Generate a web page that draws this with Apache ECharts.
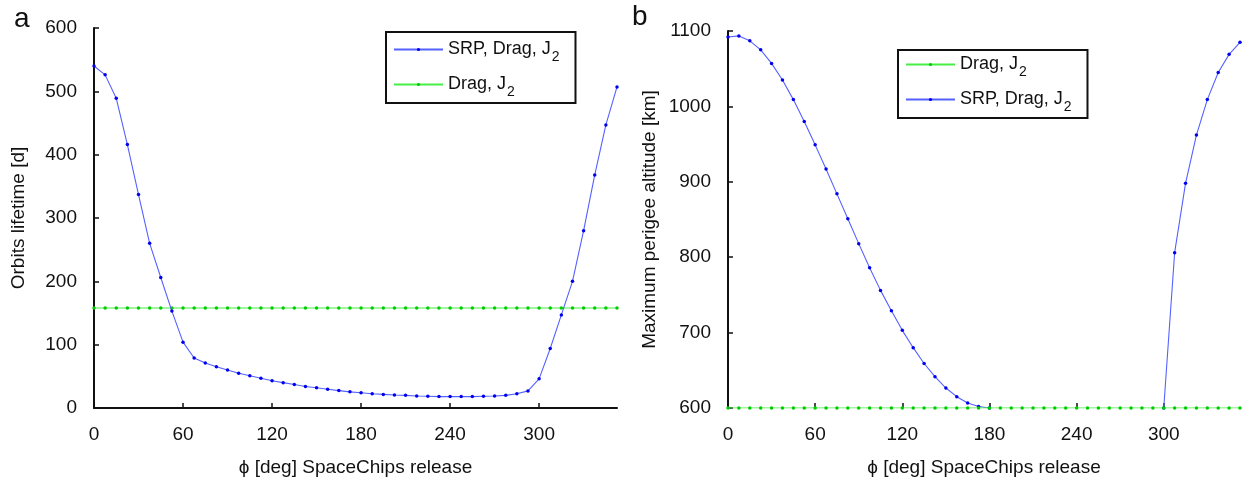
<!DOCTYPE html>
<html><head><meta charset="utf-8">
<script src="https://cdn.jsdelivr.net/npm/echarts@6/dist/echarts.min.js"></script>
<style>html,body{margin:0;padding:0;background:#fff}#c{width:1250px;height:482px}</style>
</head><body><div id="c"></div>
<script>
// Release angle phi [deg]
const phi = [0, 7.5, 15, 22.5, 30, 37.5, 45, 52.5, 60, 67.5, 75, 82.5, 90, 97.5, 105, 112.5,
  120, 127.5, 135, 142.5, 150, 157.5, 165, 172.5, 180, 187.5, 195, 202.5, 210, 217.5, 225, 232.5,
  240, 247.5, 255, 262.5, 270, 277.5, 285, 292.5, 300, 307.5, 315, 322.5, 330, 337.5, 345, 352.5];

// (a) Orbits lifetime [d]
const lifetimeSRP = [540, 526, 489, 416, 337, 260, 206, 153, 104, 79, 71, 65, 60, 55, 51, 47,
  43, 40, 37, 34, 32, 29.5, 27.5, 25.5, 24, 22.5, 21.5, 20.5, 20, 19, 18.5, 18,
  18, 18, 18, 18.5, 19, 20, 22.5, 27, 46, 94, 147, 200, 280, 368, 447, 507];
const lifetimeDrag = [158, 158, 158, 158, 158, 158, 158, 158, 158, 158, 158, 158, 158, 158, 158, 158,
  158, 158, 158, 158, 158, 158, 158, 158, 158, 158, 158, 158, 158, 158, 158, 158,
  158, 158, 158, 158, 158, 158, 158, 158, 158, 158, 158, 158, 158, 158, 158, 158];

// (b) Maximum perigee altitude [km]
const perigeeSRP = [1092, 1093.5, 1087, 1075, 1057, 1035, 1009, 980, 949, 917, 884, 851, 818, 786, 756, 729,
  703, 680, 659, 641.5, 626.5, 615, 606.5, 602, 600, null, null, null, null, null, null, null,
  null, null, null, null, null, null, null, null, 600, 806, 898, 962, 1009, 1045, 1069, 1085];
const perigeeDrag = [600, 600, 600, 600, 600, 600, 600, 600, 600, 600, 600, 600, 600, 600, 600, 600,
  600, 600, 600, 600, 600, 600, 600, 600, 600, 600, 600, 600, 600, 600, 600, 600,
  600, 600, 600, 600, 600, 600, 600, 600, 600, 600, 600, 600, 600, 600, 600, 600];

const xTickValues = [0, 60, 120, 180, 240, 300];
const NAME_SRP = 'SRP, Drag, J2';
const NAME_DRAG = 'Drag, J2';

const FONT = "'Liberation Sans', Arial, Helvetica, sans-serif";
const BLUE_LINE = '#5561ff', BLUE_DOT = '#0000ee';
const GREEN_LINE = '#46ee46', GREEN_DOT = '#00cc00';

function pairs(xs, ys) { return xs.map((x, i) => [x, ys[i]]); }

function xAxisCfg(gridIndex, showLine) {
  return {
    type: 'value', gridIndex, min: 0, max: 352.5,
    name: 'ϕ [deg] SpaceChips release', nameLocation: 'middle', nameGap: 50,
    nameTextStyle: { fontFamily: FONT, fontSize: 19, color: '#111' },
    axisLine: { show: showLine, lineStyle: { color: '#111', width: 2 } },
    axisTick: { show: true, inside: true, length: 5, customValues: xTickValues, lineStyle: { color: '#111', width: 1.5 } },
    axisLabel: { customValues: xTickValues, fontFamily: FONT, fontSize: 19, color: '#111', margin: 17 },
    splitLine: { show: false }
  };
}
function yAxisCfg(gridIndex, min, max, name, gap) {
  return {
    type: 'value', gridIndex, min, max, interval: 100,
    name, nameLocation: 'middle', nameGap: gap,
    nameTextStyle: { fontFamily: FONT, fontSize: 19, color: '#111' },
    axisLine: { show: true, lineStyle: { color: '#111', width: 2 } },
    axisTick: { show: true, inside: true, length: 5, lineStyle: { color: '#111', width: 1.5 } },
    axisLabel: { fontFamily: FONT, fontSize: 19, color: '#111', margin: 17, formatter: v => String(v) },
    splitLine: { show: false }
  };
}
function lineSeries(name, xi, yi, data, lc, dc, z) {
  return {
    name, type: 'line', xAxisIndex: xi, yAxisIndex: yi, data, z,
    symbol: 'circle', symbolSize: 3.5, showSymbol: true,
    connectNulls: false, animation: false,
    lineStyle: { color: lc, width: 1.1 },
    itemStyle: { color: dc },
    emphasis: { disabled: true }
  };
}
function legendCfg(left, top, names, padTop, padRight) {
  return {
    left, top, orient: 'vertical', data: names,
    backgroundColor: '#fff', borderColor: '#111', borderWidth: 2,
    padding: [padTop, padRight, 4, 7], itemGap: 6, itemWidth: 49, itemHeight: 4,
    selectedMode: false,
    formatter: n => '{m|' + n.replace('J2', 'J') + '}{s|2}',
    textStyle: {
      fontFamily: FONT, fontSize: 18, color: '#111',
      rich: {
        m: { fontFamily: FONT, fontSize: 18, color: '#111', lineHeight: 20 },
        s: { fontFamily: FONT, fontSize: 14, color: '#111', lineHeight: 14, padding: [15, 0, 0, 1] }
      }
    }
  };
}

const chart = echarts.init(document.getElementById('c'), null, { renderer: 'canvas' });
chart.setOption({
  animation: false,
  backgroundColor: '#fff',
  graphic: [
    { type: 'text', left: 14, top: 5, style: { text: 'a', font: '28px ' + FONT, fill: '#111' } },
    { type: 'text', left: 632, top: 3, style: { text: 'b', font: '28px ' + FONT, fill: '#111' } }
  ],
  grid: [
    { left: 94, top: 28, width: 523, height: 380 },
    { left: 728, top: 31, width: 512, height: 377 }
  ],
  xAxis: [xAxisCfg(0, true), xAxisCfg(1, false)],
  yAxis: [
    yAxisCfg(0, 0, 600, 'Orbits lifetime [d]', 66),
    yAxisCfg(1, 600, 1100, 'Maximum perigee altitude [km]', 69)
  ],
  legend: [
    legendCfg(386, 32, [NAME_SRP, NAME_DRAG], 3, 16),
    legendCfg(898, 50, [NAME_DRAG, NAME_SRP], 0, 16)
  ],
  series: [
    lineSeries(NAME_SRP, 0, 0, pairs(phi, lifetimeSRP), BLUE_LINE, BLUE_DOT, 3),
    lineSeries(NAME_DRAG, 0, 0, pairs(phi, lifetimeDrag), GREEN_LINE, GREEN_DOT, 2),
    lineSeries(NAME_DRAG, 1, 1, pairs(phi, perigeeDrag), GREEN_LINE, GREEN_DOT, 3),
    lineSeries(NAME_SRP, 1, 1, pairs(phi, perigeeSRP), BLUE_LINE, BLUE_DOT, 2)
  ]
});
</script></body></html>
